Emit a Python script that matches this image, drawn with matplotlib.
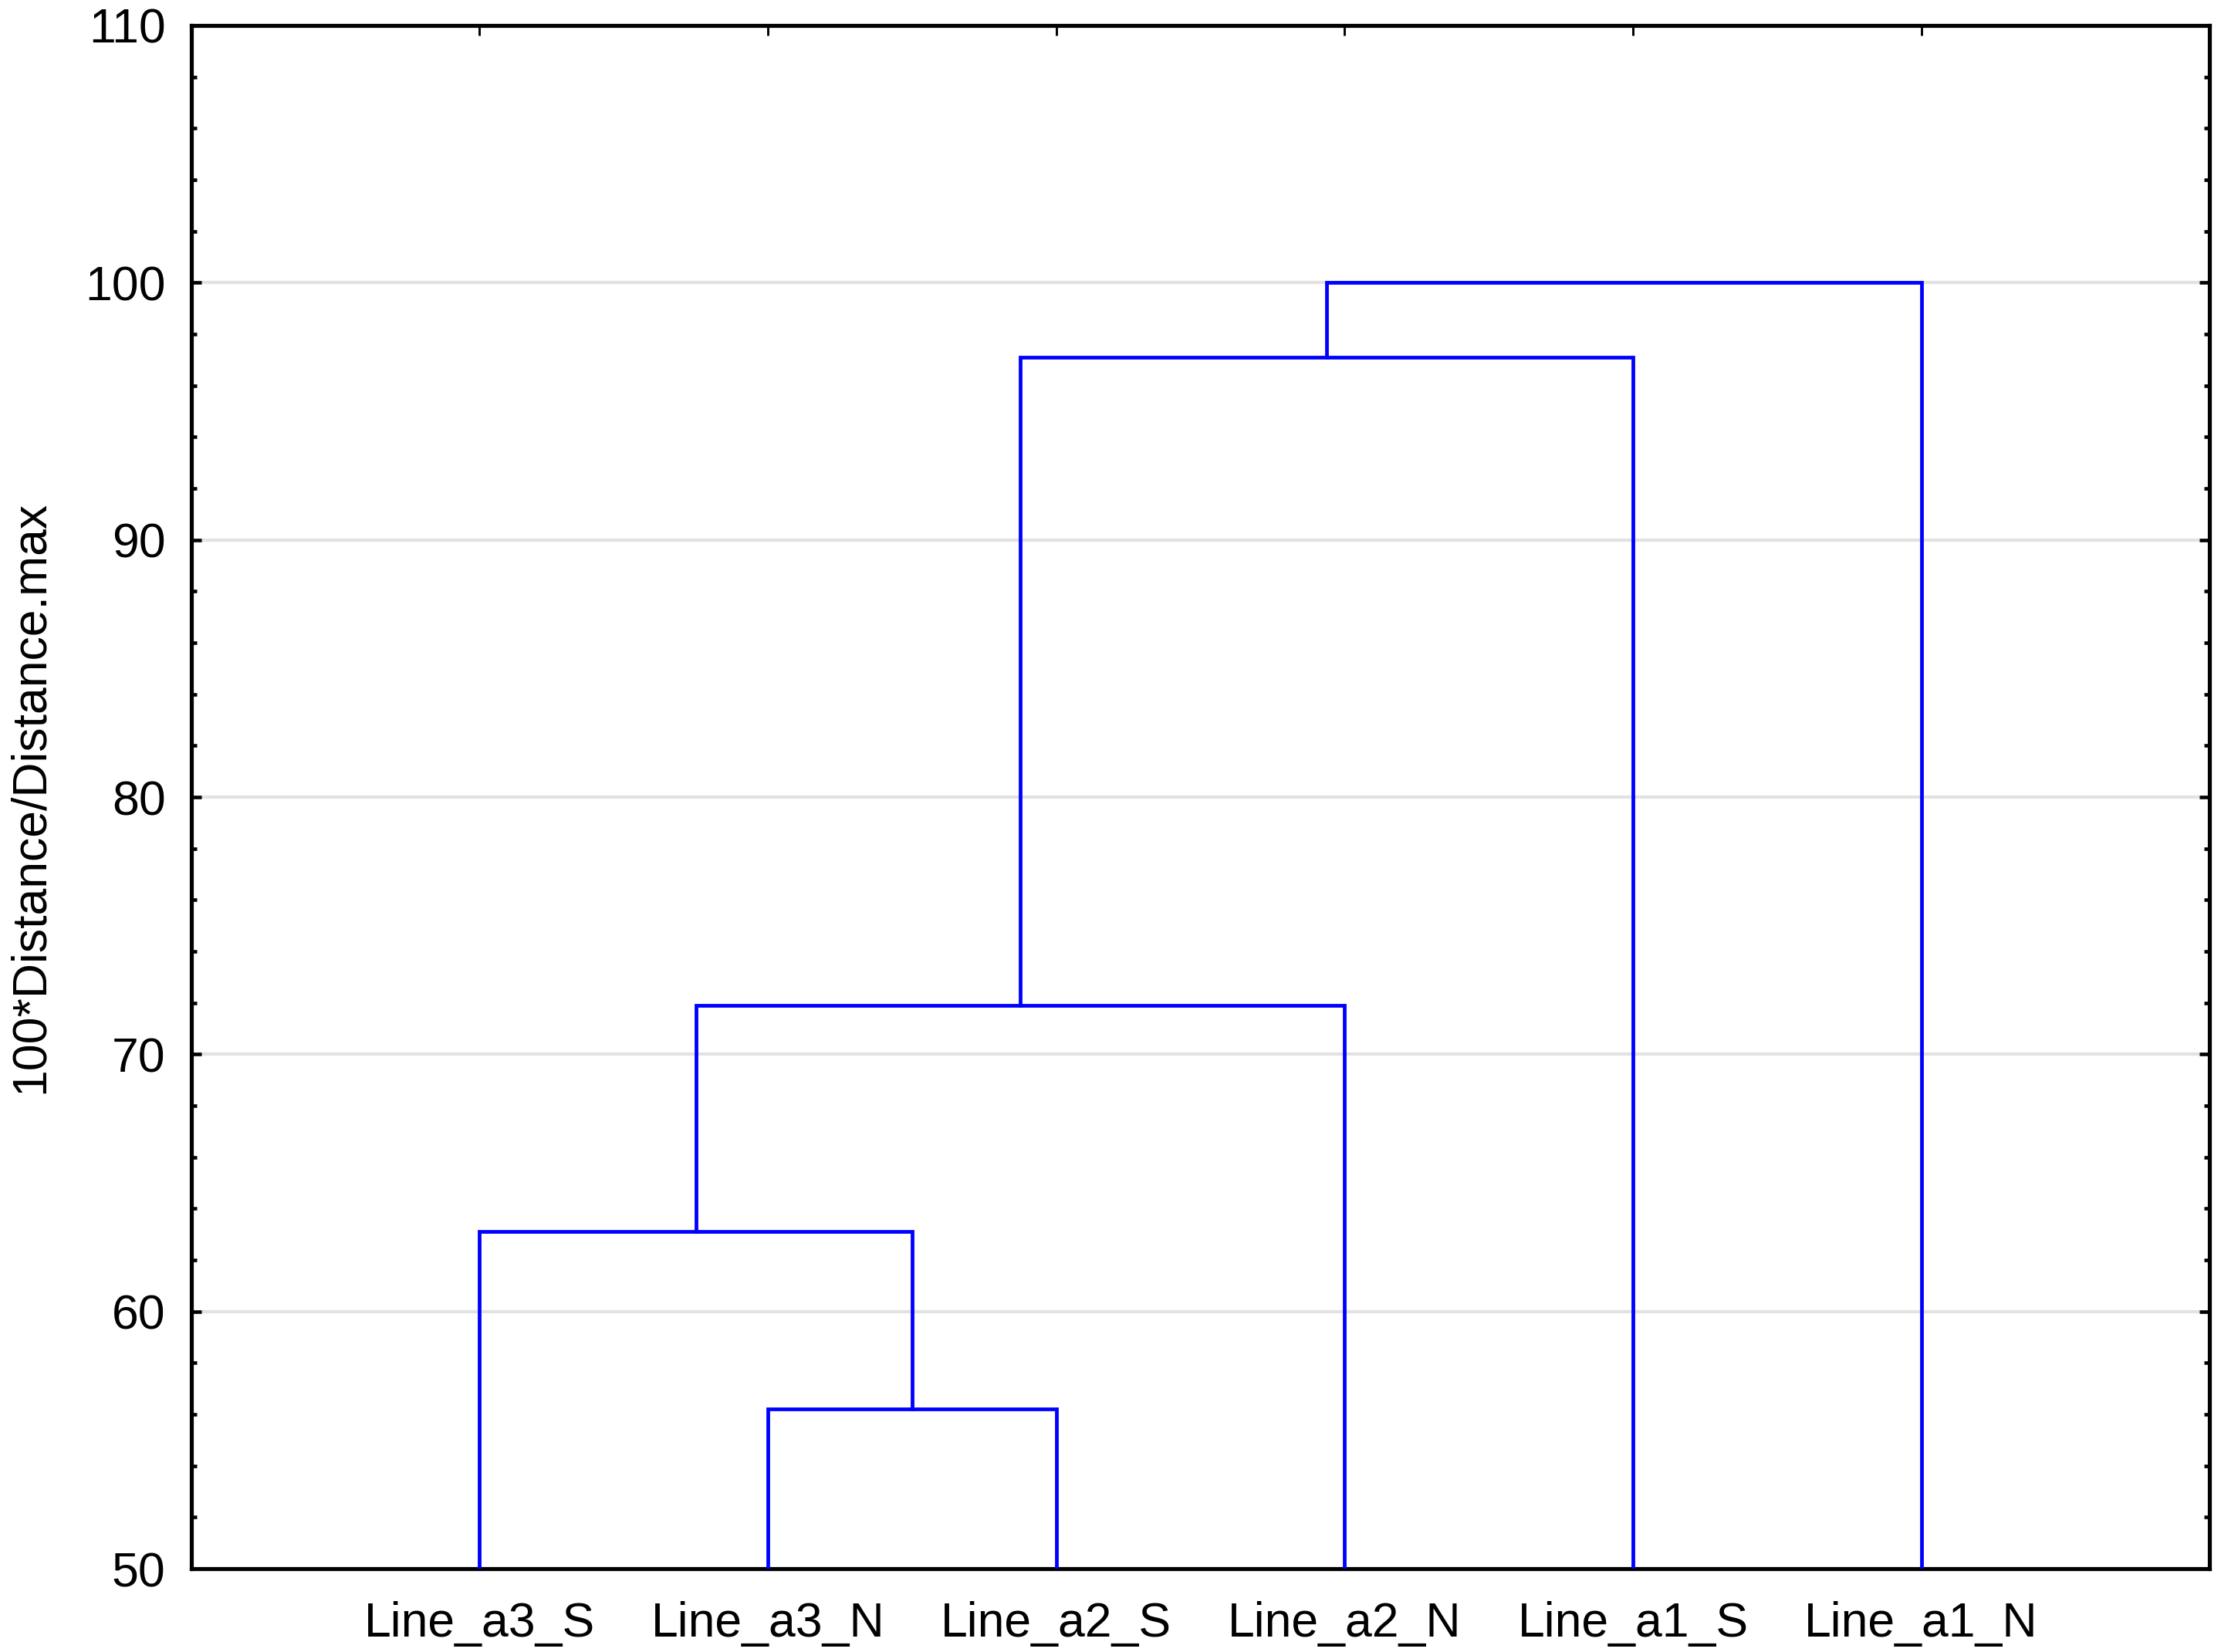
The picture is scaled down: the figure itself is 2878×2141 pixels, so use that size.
import matplotlib
matplotlib.use("Agg")
import matplotlib.pyplot as plt
from matplotlib.ticker import MultipleLocator

plt.rcParams['font.family'] = ['Liberation Sans', 'DejaVu Sans']

leaves = ["Line_a3_S", "Line_a3_N", "Line_a2_S", "Line_a2_N", "Line_a1_S", "Line_a1_N"]
# merges: (left cluster, right cluster, linkage distance); leaves are 0..5, new clusters 6..
merge_left = [1, 0, 7, 8, 9]
merge_right = [2, 6, 3, 4, 5]
merge_height = [56.2, 63.1, 71.9, 97.1, 100.0]

fig = plt.figure(figsize=(2879 / 300, 2141 / 300), dpi=300)
ax = fig.add_axes([0.0861, 0.0504, 0.9084, 0.9342])

ymin = 50
pos = {i: i + 1 for i in range(len(leaves))}
hgt = {i: ymin for i in range(len(leaves))}
for k, (a, b, h) in enumerate(zip(merge_left, merge_right, merge_height)):
    xa, xb = pos[a], pos[b]
    ax.plot([xa, xa, xb, xb], [hgt[a], h, h, hgt[b]], color='#0000ff', lw=1.15,
            solid_joinstyle='miter', zorder=3)
    nid = len(leaves) + k
    pos[nid] = (xa + xb) / 2
    hgt[nid] = h

ax.set_xlim(0, len(leaves) + 1)
ax.set_ylim(50, 110)
ax.set_xticks(range(1, len(leaves) + 1))
ax.set_xticklabels(leaves)
ax.yaxis.set_major_locator(MultipleLocator(10))
ax.yaxis.set_minor_locator(MultipleLocator(2))

for y in range(60, 101, 10):
    ax.axhline(y, color='#e2e2e2', lw=1.0, zorder=1)

ax.tick_params(axis='y', which='major', direction='in', length=3.2, width=1.1,
               left=True, right=True, labelsize=15, pad=8)
ax.tick_params(axis='y', which='minor', direction='in', length=1.7, width=1.1,
               left=True, right=True)
ax.tick_params(axis='x', which='major', direction='in', length=3.2, width=0.7,
               top=True, bottom=True, labelsize=15, pad=10)
for s in ax.spines.values():
    s.set_linewidth(1.25)

ax.set_ylabel("100*Distance/Distance.max", fontsize=15, labelpad=10)

fig.savefig("out.png", dpi=300)
